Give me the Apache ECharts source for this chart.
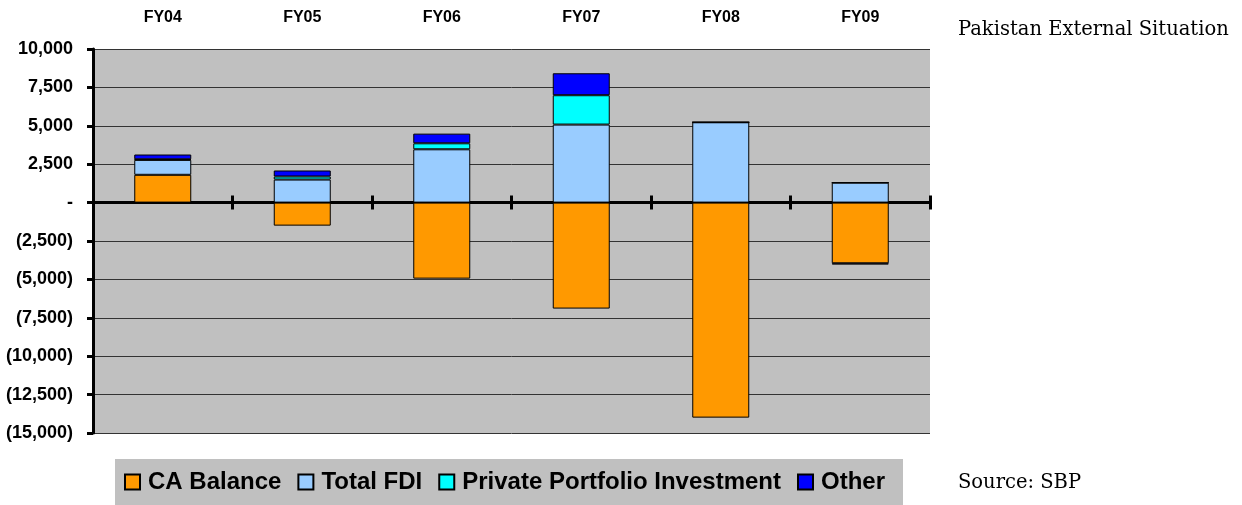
<!DOCTYPE html>
<html>
<head>
<meta charset="utf-8">
<script src="https://cdn.jsdelivr.net/npm/echarts@6/dist/echarts.min.js"></script>
<style>
    body { margin: 0; background: #fff; }
    #main { width: 1242px; height: 505px; }
</style>
</head>
<body>
<div id="main"></div>
<script>
// Pakistan external situation, US$ mn
var years = ['FY04', 'FY05', 'FY06', 'FY07', 'FY08', 'FY09'];
var caBalance = [1810, -1500, -4950, -6900, -14000, -3950];
var totalFdi = [970, 1500, 3470, 5080, 5230, 1300];
var portfolio = [40, 200, 390, 1910, 0, 0];
var other = [310, 390, 630, 1430, 0, -80];

var seriesNames = ['CA Balance', 'Total FDI', 'Private Portfolio Investment', 'Other'];
var seriesColors = ['#FF9900', '#99CCFF', '#00FFFF', '#0000FF'];
var seriesData = [caBalance, totalFdi, portfolio, other];

function fmtVal(v) {
    if (v === 0) return '-';
    var s = Math.abs(v).toLocaleString('en-US');
    return v < 0 ? '(' + s + ')' : s;
}

var myChart = echarts.init(document.getElementById('main'));

var series = [];
for (var i = 0; i < seriesNames.length; i++) {
    series.push({
        name: seriesNames[i],
        type: 'bar',
        stack: 'total',
        xAxisIndex: 1,
        yAxisIndex: 0,
        barWidth: 57,
        itemStyle: { color: seriesColors[i], borderColor: '#000', borderWidth: 1 },
        data: seriesData[i]
    });
}

var tickStyle = { color: '#000', width: 3 };

var option = {
    animation: false,
    backgroundColor: '#fff',
    textStyle: { fontFamily: 'Liberation Sans, Arial, sans-serif' },
    graphic: [
        { type: 'text', left: 958, top: 20,
          style: { text: 'Pakistan External Situation', font: '19.5px "DejaVu Serif", serif', fill: '#000' } },
        { type: 'text', left: 958, top: 473,
          style: { text: 'Source: SBP', font: '19.5px "DejaVu Serif", serif', fill: '#000' } }
    ],
    grid: { left: 93, right: 312, top: 49, bottom: 72 },
    legend: {
        bottom: 0,
        left: 115,
        backgroundColor: '#C0C0C0',
        padding: [11, 18, 11, 9],
        itemWidth: 15,
        itemHeight: 15,
        itemGap: 16,
        icon: 'rect',
        textStyle: { fontSize: 24, fontWeight: 'bold', color: '#000', padding: [0, 0, 0, 3] },
        data: seriesNames
    },
    xAxis: [
        {
            type: 'category', data: years, position: 'top',
            axisLine: { show: false, onZero: false }, axisTick: { show: false },
            axisLabel: { margin: 23, fontSize: 16, fontWeight: 'bold', color: '#000' }
        },
        {
            type: 'category', data: years, position: 'bottom',
            axisLine: { onZero: true, onZeroAxisIndex: 0, lineStyle: { color: '#000', width: 3 } },
            axisTick: { show: true, length: 7, lineStyle: tickStyle },
            axisLabel: { show: false }
        },
        {
            type: 'category', data: years, position: 'bottom',
            axisLine: { show: false, onZero: true, onZeroAxisIndex: 1 },
            axisTick: { show: true, inside: true, length: 7, lineStyle: tickStyle },
            axisLabel: { show: false }
        }
    ],
    yAxis: [
        {
            type: 'value', min: -15000, max: 10000, interval: 2500,
            axisLine: { show: true, lineStyle: { color: '#000', width: 3 } },
            axisTick: { show: true, length: 6, lineStyle: tickStyle },
            axisLabel: { margin: 20, fontSize: 18, fontWeight: 'bold', color: '#000', formatter: fmtVal },
            splitLine: { lineStyle: { color: '#333', width: 1 } },
            splitArea: { show: true, areaStyle: { color: ['#C0C0C0', '#C0C0C0'] } }
        },
        {
            type: 'value', min: -15000, max: 10000, interval: 2500, show: false
        }
    ],
    series: series
};

myChart.setOption(option);
window.onresize = myChart.resize;
</script>
</body>
</html>
